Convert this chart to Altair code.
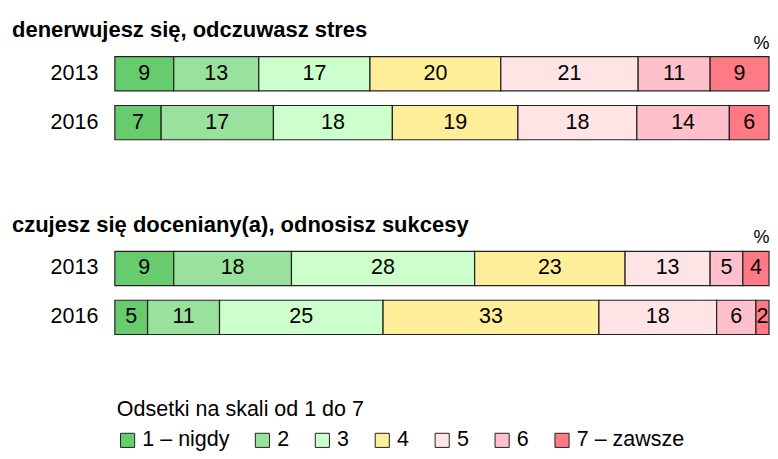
import altair as alt
import pandas as pd

questions = ["denerwujesz się, odczuwasz stres",
             "czujesz się doceniany(a), odnosisz sukcesy"]
years = ["2013", "2016"]
categories = ["1 – nigdy", "2", "3", "4", "5", "6", "7 – zawsze"]
stress_2013 = [9, 13, 17, 20, 21, 11, 9]
stress_2016 = [7, 17, 18, 19, 18, 14, 6]
success_2013 = [9, 18, 28, 23, 13, 5, 4]
success_2016 = [5, 11, 25, 33, 18, 6, 2]
colors = ["#66cc6e", "#99e29e", "#ccffcc", "#ffee99", "#ffe4e6", "#ffc0cb", "#ff7a85"]

rows = []
for q, series in zip(questions, [[stress_2013, stress_2016], [success_2013, success_2016]]):
    for yr, vals in zip(years, series):
        for i, (c, v) in enumerate(zip(categories, vals)):
            rows.append(dict(question=q, year=yr, cat=c, order=i, value=v))
df = pd.DataFrame(rows)

FONT = "Liberation Sans"
FS = 21.5


def panel(q):
    base = (
        alt.Chart(df)
        .transform_filter(alt.datum.question == q)
        .transform_joinaggregate(total="sum(value)", groupby=["year"])
        .transform_window(cum="sum(value)", sort=[alt.SortField("order")],
                          groupby=["year"], frame=[None, 0])
        .transform_calculate(
            start="(datum.cum - datum.value) / datum.total",
            end="datum.cum / datum.total",
            mid="(datum.cum - datum.value / 2) / datum.total",
        )
    )
    y = alt.Y("year:N", sort=years,
              scale=alt.Scale(paddingInner=0.3, paddingOuter=0.15),
              axis=alt.Axis(title=None, domain=False, ticks=False, labelFontSize=FS,
                            labelPadding=17, labelColor="black", labelFont=FONT))
    x = alt.X("start:Q", scale=alt.Scale(domain=[0, 1], nice=False),
              axis=alt.Axis(orient="top", title="%", labels=False, ticks=False,
                            domain=False, grid=False, titleAnchor="end",
                            titleAlign="right", titleFontSize=18, titleX=655,
                            titleFontWeight="normal", titlePadding=-3,
                            titleColor="black", titleFont=FONT))
    bars = base.mark_bar(stroke="#222222", strokeWidth=1.2).encode(
        x=x, x2="end:Q", y=y,
        color=alt.Color("cat:N", sort=categories,
                        scale=alt.Scale(domain=categories, range=colors),
                        legend=alt.Legend(
                            title="Odsetki na skali od 1 do 7", orient="none",
                            legendX=2, legendY=350, direction="horizontal",
                            titleFontSize=FS, titleFontWeight="normal",
                            titleFont=FONT, titleColor="black", titlePadding=9,
                            titleLimit=600,
                            labelFontSize=FS, labelFont=FONT, labelColor="black",
                            symbolType="square", symbolSize=200,
                            symbolStrokeColor="#222222", symbolStrokeWidth=1,
                            symbolOpacity=1, columnPadding=22, labelOffset=4)),
    )
    text = base.mark_text(fontSize=FS, color="black", font=FONT).encode(
        x="mid:Q", y=alt.Y("year:N", sort=years), text="value:Q")
    return alt.layer(bars, text).properties(
        width=655, height=98,
        title=alt.TitleParams(q, anchor="start", frame="group", dx=-103,
                              fontSize=22, fontWeight="bold", font=FONT,
                              color="black", offset=-8))


chart = (
    alt.vconcat(panel(questions[0]), panel(questions[1]), spacing=67)
    .properties(padding={"left": 4, "top": 11, "right": 0, "bottom": 0})
    .configure_view(stroke=None)
)
chart.save("out.html", embed_options={"renderer": "svg", "actions": False})
